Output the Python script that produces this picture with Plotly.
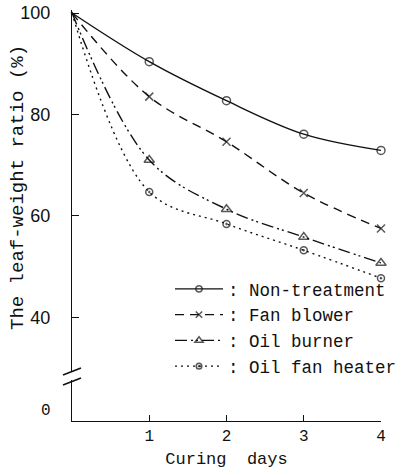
import plotly.graph_objects as go

days = [0, 1, 2, 3, 4]
non_treatment = [100, 90.4, 82.7, 76.1, 72.9]
fan_blower = [100, 83.5, 74.6, 64.5, 57.5]
oil_burner = [100, 71.0, 61.3, 55.8, 50.7]
oil_fan_heater = [100, 64.7, 58.4, 53.2, 47.7]

series_names = [": Non-treatment", ": Fan blower", ": Oil burner", ": Oil fan heater"]
x_ticks = [1, 2, 3, 4]
y_ticks = [40, 60, 80, 100]
y_break_ticks = [0]
y_title = "The leaf-weight ratio (%)"
x_title = "Curing  days"

INK = "#111111"
MONO = "Liberation Mono, Courier New, monospace"
SANS = "Liberation Sans, Arial, sans-serif"

W, H = 400, 473
L, R, T, B = 72, 19, 10, 52
PH = H - T - B  # plot height in px


def py(ypx):
    return (H - B - ypx) / PH


def px(xpx):
    return (xpx - L) / (W - L - R)


styles = [
    dict(dash="solid", symbol="circle-open", size=8),
    dict(dash="9px,6px", symbol="x-thin-open", size=8),
    dict(dash="12px,4px,2px,3px,2px,4px", symbol="triangle-up-open", size=9),
    dict(dash="2px,4px", symbol="circle-open-dot", size=7),
]
data = [non_treatment, fan_blower, oil_burner, oil_fan_heater]

fig = go.Figure()
for i, (name, vals, st) in enumerate(zip(series_names, data, styles)):
    sizes = [0] + [st["size"]] * (len(days) - 1)  # no marker at the day-0 start point
    fig.add_trace(go.Scatter(
        x=days, y=vals, mode="lines+markers", name=name, legendgroup=f"g{i}",
        xaxis="x", yaxis="y",
        line=dict(color=INK, width=1.4, dash=st["dash"], shape="spline", smoothing=1.0),
        marker=dict(symbol=st["symbol"], size=sizes, color=INK,
                    line=dict(color=INK, width=1.5)),
        cliponaxis=False,
    ))

# empty trace so the lower (broken) y axis segment is created
fig.add_trace(go.Scatter(x=[], y=[], xaxis="x", yaxis="y2", showlegend=False,
                         hoverinfo="skip"))

s = 5.07  # px per unit
upper_top = 100 + (13 - T) / s
upper_bottom_px = 372
upper_low = 100 - (upper_bottom_px - 13) / s
lower_top_px = 380
zero_px = 411
lower_low = 0 - (H - B - zero_px) / s
lower_high = 0 + (zero_px - lower_top_px) / s

fig.update_layout(
    width=W, height=H,
    margin=dict(l=L, r=R, t=T, b=B, autoexpand=False),
    paper_bgcolor="white", plot_bgcolor="white",
    showlegend=True,
    legend=dict(
        x=px(170), y=py(271), xanchor="left", yanchor="top",
        font=dict(family=MONO, size=17.5, color=INK),
        bgcolor="rgba(0,0,0,0)", tracegroupgap=0,
        itemwidth=48,
    ),
    xaxis=dict(
        range=[0, 4], anchor="y2", showline=True, linecolor=INK, linewidth=1.4,
        tickvals=x_ticks, ticktext=[str(v) for v in x_ticks],
        ticks="inside", ticklen=6, tickcolor=INK, tickwidth=1.4,
        tickfont=dict(family=MONO, size=16, color=INK),
        showgrid=False, zeroline=False, mirror=False, automargin=False,
        title=dict(text=x_title, font=dict(family=MONO, size=17, color=INK), standoff=6),
    ),
    yaxis=dict(
        domain=[py(upper_bottom_px), 1], range=[upper_low, upper_top],
        anchor="x", showline=True, linecolor=INK, linewidth=1.4,
        tickvals=y_ticks, ticktext=[str(v) for v in y_ticks],
        ticks="inside", ticklen=7, tickcolor=INK, tickwidth=1.4,
        tickfont=dict(family=SANS, size=18, color=INK),
        ticklabelstandoff=17, automargin=False,
        showgrid=False, zeroline=False,
    ),
    yaxis2=dict(
        domain=[0, py(lower_top_px)], range=[lower_low, lower_high],
        anchor="x", showline=True, linecolor=INK, linewidth=1.4,
        showticklabels=False, ticks="",
        automargin=False,
        showgrid=False, zeroline=False,
    ),
)

# tick label of the lower (broken-off) axis segment, placed on that axis' scale
for v in y_break_ticks:
    fig.add_annotation(
        text=str(v), showarrow=False, xref="paper", yref="y2", x=px(53), y=v,
        xanchor="right", yanchor="middle",
        font=dict(family=MONO, size=16, color=INK),
    )

# vertical y-axis title
fig.add_annotation(
    text=y_title, textangle=-90, showarrow=False,
    xref="paper", yref="paper", x=px(18), y=py(188),
    xanchor="center", yanchor="middle",
    font=dict(family=MONO, size=19, color=INK),
)

# axis break marks
for y0 in (375, 385):
    fig.add_shape(type="line", xref="paper", yref="paper",
                  x0=px(63), y0=py(y0), x1=px(81), y1=py(y0 - 7),
                  line=dict(color=INK, width=1.6))

# remove the default 8px page margin so the 400x473 figure fills the window exactly
fig.write_html("out.html", config={"displayModeBar": False},
               post_script="document.body.style.margin='0';")
